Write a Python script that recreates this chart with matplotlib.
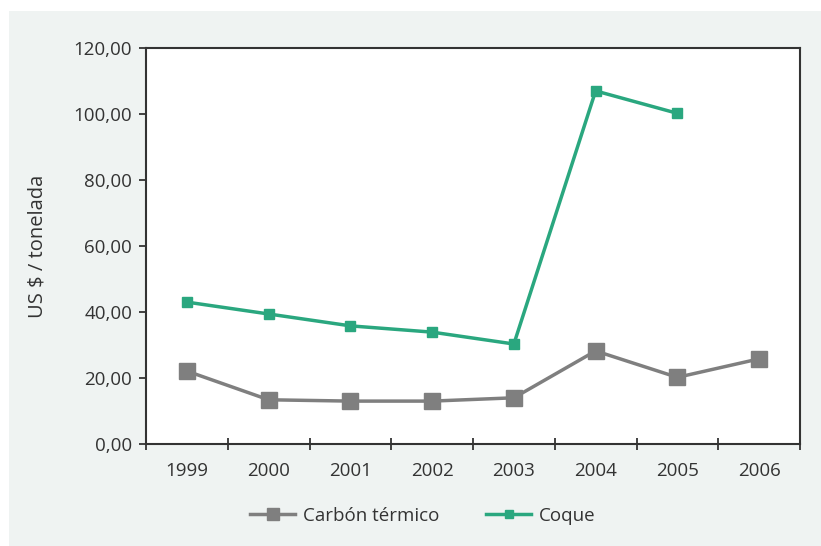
import matplotlib
matplotlib.use("Agg")
import matplotlib.pyplot as plt
from matplotlib.patches import Rectangle
import numpy as np

years = ["1999", "2000", "2001", "2002", "2003", "2004", "2005", "2006"]
carbon = [22.1, 13.4, 13.0, 13.0, 14.0, 28.2, 20.2, 25.8]
coque = [43.0, 39.4, 35.8, 33.9, 30.3, 107.0, 100.2, np.nan]
yticks = [0, 20, 40, 60, 80, 100, 120]

plt.rcParams['font.family'] = ['Open Sans', 'DejaVu Sans']
W, H = 821, 546
fig = plt.figure(figsize=(W/100, H/100), dpi=100)
fig.patch.set_facecolor('white')
bg = '#eff3f2'
fig.add_artist(Rectangle((9/W, 0), 1 - 9/W, 1 - 11/H, transform=fig.transFigure,
                         facecolor=bg, edgecolor='none', zorder=-10))

left, right, top, bottom = 146, 800, 48, 444
ax = fig.add_axes([left/W, 1 - bottom/H, (right-left)/W, (bottom-top)/H])
ax.set_facecolor('white')

x = np.arange(len(years))
c_gray = '#7f7f7f'
c_green = '#2aa77f'
ax.plot(x, carbon, color=c_gray, lw=2.5, marker='s', ms=11, mec=c_gray, mfc=c_gray,
        label='Carbón térmico')
ax.plot(x, coque, color=c_green, lw=2.5, marker='s', ms=7.5, mec=c_green, mfc=c_green,
        label='Coque')

ax.set_xlim(-0.5, len(years) - 0.5)
ax.set_ylim(0, 120)
ax.set_yticks(yticks)
ax.set_yticklabels([f"{v:.2f}".replace('.', ',') for v in yticks])
ax.set_xticks(x)
ax.set_xticklabels(years)
ax.set_xticks(np.arange(-0.5, len(years)), minor=True)
ax.tick_params(axis='x', which='major', length=0, pad=13)
ax.tick_params(axis='x', which='minor', direction='inout', length=9, width=1.3, color='#333333')
ax.tick_params(axis='y', direction='out', length=5, width=1.3, color='#333333', pad=5)
ax.tick_params(labelsize=13.5, labelcolor='#333333')
for s in ax.spines.values():
    s.set_color('#333333')
    s.set_linewidth(1.5)
ax.set_ylabel('US $ / tonelada', fontsize=14.5, color='#333333', labelpad=19)

leg = fig.legend(loc='center', bbox_to_anchor=(0.515, 1 - 516/H), ncol=2, frameon=False,
                 fontsize=13.5, handlelength=2.4, columnspacing=2.5, handletextpad=0.4,
                 labelcolor='#333333', markerscale=0.8)

fig.savefig('out.png', dpi=100, facecolor=fig.get_facecolor())
